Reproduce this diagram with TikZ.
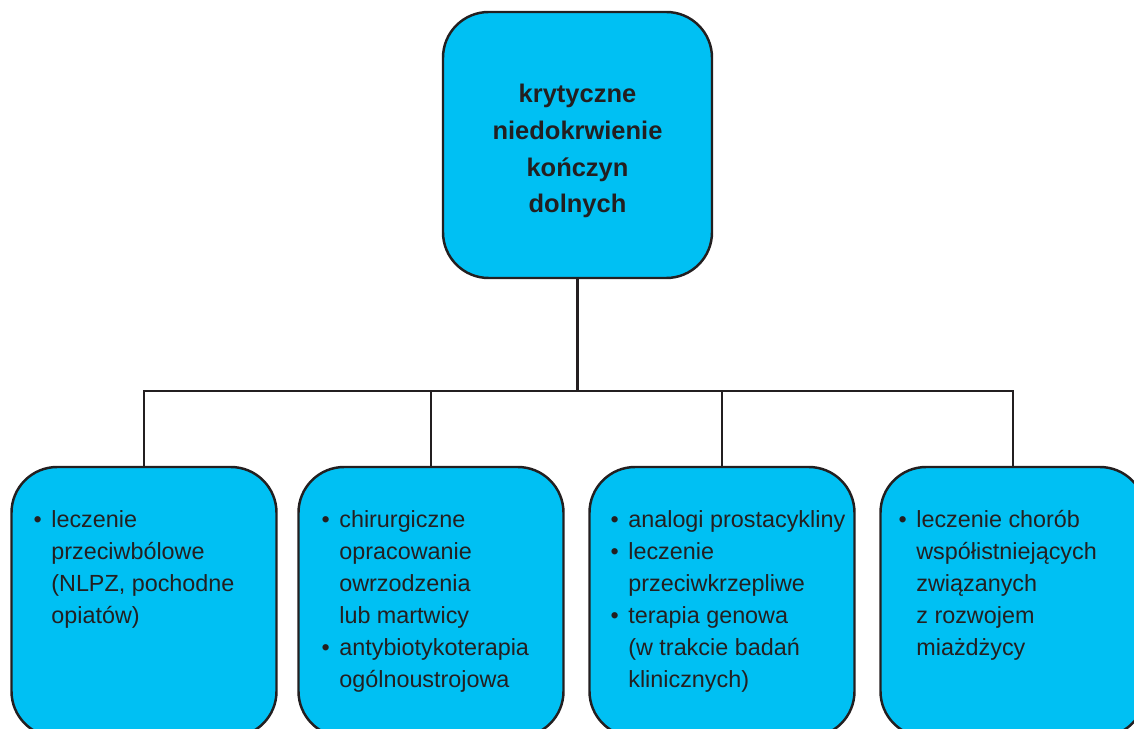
\documentclass[tikz,border=0pt]{standalone}
\usepackage{fontspec}
\setmainfont{Liberation Sans}
\usepackage{tikz}
\usetikzlibrary{positioning, calc}

\definecolor{boxblue}{RGB}{0,192,243}
\definecolor{inkdark}{RGB}{35,31,32}
\newcommand{\itm}{\makebox[0pt][r]{\textbullet\hspace{5.5pt}}}
\newcommand{\unitlen}{*0.02cm}

\tikzset{
	mainbox/.style = {draw=inkdark, fill=boxblue, line width=1.4pt, rounded corners=26pt, minimum width=269\unitlen, minimum height=266\unitlen},
	subbox/.style = {draw=inkdark, fill=boxblue, line width=1.4pt, rounded corners=26pt, minimum width=265\unitlen, minimum height=270\unitlen},
	titletext/.style = {inner sep=0pt, align=center, text=inkdark, font=\bfseries\fontsize{14.5}{21}\selectfont},
	bodytext/.style = {anchor=north west, inner sep=0pt, align=left, text=inkdark, font=\fontsize{13.3}{18.2}\selectfont},
	link/.style = {draw=inkdark, line width=1.3pt}
}

\begin{document}
\begin{tikzpicture}[x=0.02cm, y=-0.02cm]
	\useasboundingbox (0,0) rectangle (1134,729);
	\begin{scope}
	\clip (0,0) rectangle (1134,729);
	% main box
	\node[mainbox] (top) at (577.5,145) {};
	\node[titletext] (title) at ($(top.center)+(0,6)$) {krytyczne\\niedokrwienie\\kończyn\\dolnych};
	% sub boxes
	\node[subbox] (b1) at (144,602) {};
	\node[subbox] (b2) at (431,602) {};
	\node[subbox] (b3) at (722,602) {};
	\node[subbox] (b4) at (1013,602) {};
	% connectors
	\coordinate (bar) at (577.5,391);
	\draw[link] (top.south) -- (bar);
	\draw[link] (b1.north) |- (bar) -| (b4.north);
	\draw[link] (b2.north) -- (b2.north |- bar);
	\draw[link] (b3.north) -- (b3.north |- bar);
	% texts
	\node[bodytext] (t1) at (51,510) {\itm leczenie\\przeciwbólowe\\(NLPZ, pochodne\\opiatów)};
	\node[bodytext] (t2) at (339,510) {\itm chirurgiczne\\opracowanie\\owrzodzenia\\lub martwicy\\\itm antybiotykoterapia\\ogólnoustrojowa};
	\node[bodytext] (t3) at (628,510) {\itm analogi prostacykliny\\\itm leczenie\\przeciwkrzepliwe\\\itm terapia genowa\\(w trakcie badań\\klinicznych)};
	\node[bodytext] (t4) at (916,510) {\itm leczenie chorób\\współistniejących\\związanych\\z rozwojem\\miażdżycy};
	\end{scope}
\end{tikzpicture}
\end{document}
